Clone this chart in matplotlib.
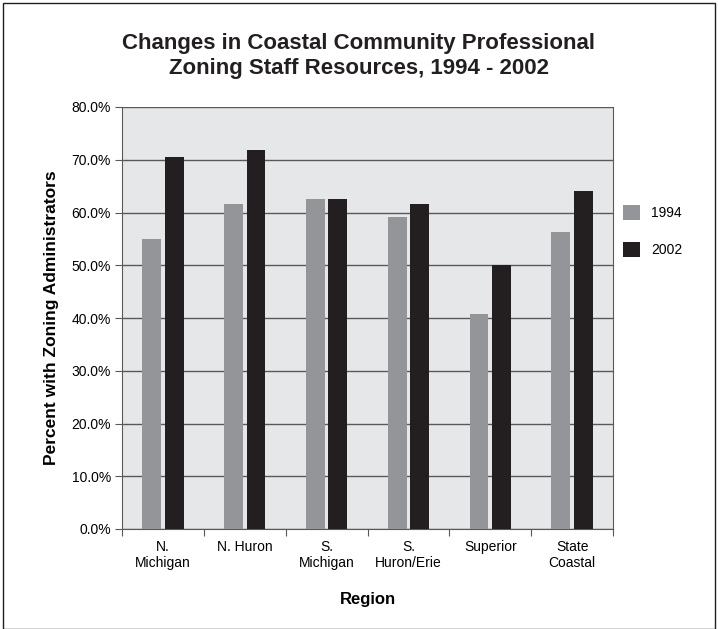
import matplotlib.pyplot as plt
import numpy as np

plt.rcParams['font.family'] = ['Liberation Sans', 'DejaVu Sans']

regions = ['N.\nMichigan', 'N. Huron', 'S.\nMichigan', 'S.\nHuron/Erie', 'Superior', 'State\nCoastal']
pct_1994 = [55.0, 61.6, 62.6, 59.1, 40.8, 56.3]
pct_2002 = [70.5, 71.8, 62.6, 61.6, 50.0, 64.1]
yticks = [0, 10, 20, 30, 40, 50, 60, 70, 80]

fig = plt.figure(figsize=(7.18, 6.29), dpi=100)
ax = fig.add_axes([122 / 718, 1 - 529 / 629, 491 / 718, 422 / 629])

# outer frame around the whole chart
fig.patches.append(plt.Rectangle((3 / 718, 0), 712 / 718, 626 / 629, transform=fig.transFigure,
                                 fill=False, edgecolor='#231f20', linewidth=1.0))

x = np.arange(len(regions))
w = 0.23
gap = 0.045
ax.bar(x - (w + gap) / 2, pct_1994, w, color='#939598', label='1994', zorder=3)
ax.bar(x + (w + gap) / 2, pct_2002, w, color='#231f20', label='2002', zorder=3)

ax.set_facecolor('#e6e7e8')
ax.set_xlim(-0.5, len(regions) - 0.5)
ax.set_ylim(0, 80)
ax.set_yticks(yticks)
ax.set_yticklabels([f'{v:.1f}%' for v in yticks], fontsize=10)
ax.yaxis.grid(True, color='#58595b', linewidth=1.0, zorder=1)
ax.set_xticks(np.arange(len(regions) + 1) - 0.5, minor=False)
ax.set_xticklabels([])
ax.set_xticks(x, minor=True)
ax.set_xticklabels(regions, minor=True, fontsize=10, linespacing=1.15)
ax.tick_params(axis='x', which='minor', length=0, pad=8)
ax.tick_params(axis='x', which='major', length=5, direction='out', color='#58595b')
ax.tick_params(axis='y', length=5, direction='out', color='#58595b', pad=3)

for side in ['left', 'bottom', 'right', 'top']:
    ax.spines[side].set_color('#58595b')
ax.spines['top'].set_visible(False)

ax.set_ylabel('Percent with Zoning Administrators', fontsize=12.5, fontweight='bold', labelpad=9)
ax.set_xlabel('Region', fontsize=12, fontweight='bold', labelpad=16)

fig.text(0.5, 1 - 56 / 629, 'Changes in Coastal Community Professional\nZoning Staff Resources, 1994 - 2002',
         ha='center', va='center', fontsize=16, fontweight='bold', linespacing=1.3, color='#231f20')

ax.legend(loc='upper left', bbox_to_anchor=(1.01, 0.78), frameon=False, fontsize=10,
          handlelength=1.2, handleheight=1.2, labelspacing=1.6, borderaxespad=0)

fig.savefig('out.png', dpi=100)
